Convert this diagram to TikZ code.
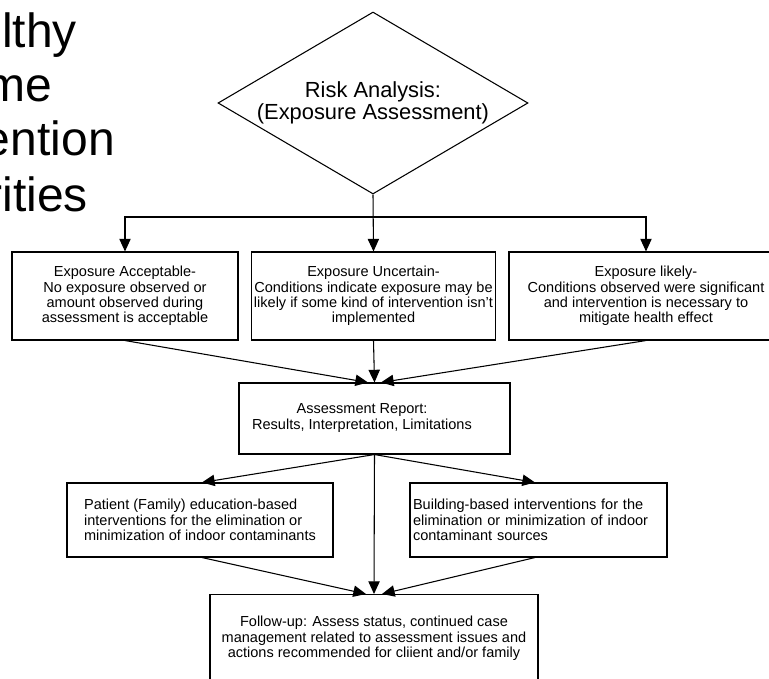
\documentclass[tikz,border=0pt]{standalone}
\usepackage{fontspec}
\setmainfont{Liberation Sans}
\usetikzlibrary{shapes.geometric,arrows.meta,calc}

\newcommand{\px}{0.75pt}
\tikzset{
    box/.style={draw, line width=0.8pt, inner sep=2pt, align=center,
        minimum height=88*\px, font=\fontsize{10.9}{11.6}\selectfont},
    boxtext/.style={inner sep=0pt, align=center, font=\fontsize{10.9}{11.6}\selectfont},
    arr/.style={-{Triangle[length=9.5pt,width=8.5pt]}, line width=0.8pt},
    title/.style={inner sep=0pt, font=\fontsize{36}{40}\selectfont}
}

\begin{document}
\begin{tikzpicture}[x=\px, y=-\px]
    \useasboundingbox (0,0) rectangle (769,679);
    \clip (0,0) rectangle (769,679);

    % slide title, cut off at the left edge
    \foreach \word/\xr/\yb in {lthy/77/47, me/52/101, ention/115/155, rities/88/211} {
        \node[title, anchor=base east] (ttl-\word) at (\xr,\yb) {\word};
    }

    % decision
    \node[draw, diamond, aspect=1.7, line width=0.8pt, inner sep=0pt, align=center,
        minimum width=310*\px, minimum height=182*\px,
        font=\fontsize{16.4}{16}\selectfont] (dia) at (373,103)
        {Risk Analysis:\\(Exposure Assessment)};

    % exposure outcomes
    \node[box, minimum width=226*\px] (acc) at (125,296)
        {Exposure Acceptable-\\No exposure observed or\\amount observed during\\assessment is acceptable};
    \node[box, minimum width=243*\px] (unc) at (373.5,296)
        {Exposure Uncertain-\\Conditions indicate exposure may be\\likely if some kind of intervention isn't\\implemented};
    \node[box, minimum width=274*\px] (lik) at (646,296)
        {Exposure likely-\\Conditions observed were significant\\and intervention is necessary to\\mitigate health effect};

    % report
    \node[box, minimum width=271*\px, minimum height=71*\px] (rep) at (374.5,418.5) {};
    \node[boxtext] (reptext) at (362,418) {Assessment Report:\\Results, Interpretation, Limitations};

    % interventions
    \node[box, align=left, minimum width=266*\px, minimum height=74*\px] (pat) at (200,520)
        {Patient (Family) education-based\\interventions for the elimination or\\minimization of indoor contaminants};
    \node[box, align=left, text width=251*\px, inner xsep=3*\px, minimum height=74*\px] (bld) at (538.5,520)
        {Building-based interventions for the\\elimination or minimization of indoor\\contaminant sources};

    % follow-up
    \node[box, anchor=north, minimum width=328*\px] (fol) at (374,594)
        {Follow-up: Assess status, continued case\\management related to assessment issues and\\actions recommended for cliient and/or family};

    % connectors
    \coordinate (split) at (dia.south |- 0,217);
    \draw[arr] (dia.south) -- (unc.north);
    \draw[arr] (split) -| (acc.north);
    \draw[arr] (split) -| (lik.north);

    \draw[arr] (acc.south) -- ($(rep.north)+(-6.5,0)$);
    \draw[arr] (unc.south) -- (rep.north);
    \draw[arr] (lik.south) -- ($(rep.north)+(6.5,0)$);

    \draw[arr] (rep.south) -- ($(pat.north)+(2,0)$);
    \draw[arr] (rep.south) -- ($(bld.north)+(-3.5,0)$);
    \draw[arr] (rep.south) -- (fol.north);

    \draw[arr] ($(pat.south)+(2,0)$) -- ($(fol.north)+(-8,0)$);
    \draw[arr] ($(bld.south)+(-3.5,0)$) -- ($(fol.north)+(8,0)$);
\end{tikzpicture}
\end{document}
